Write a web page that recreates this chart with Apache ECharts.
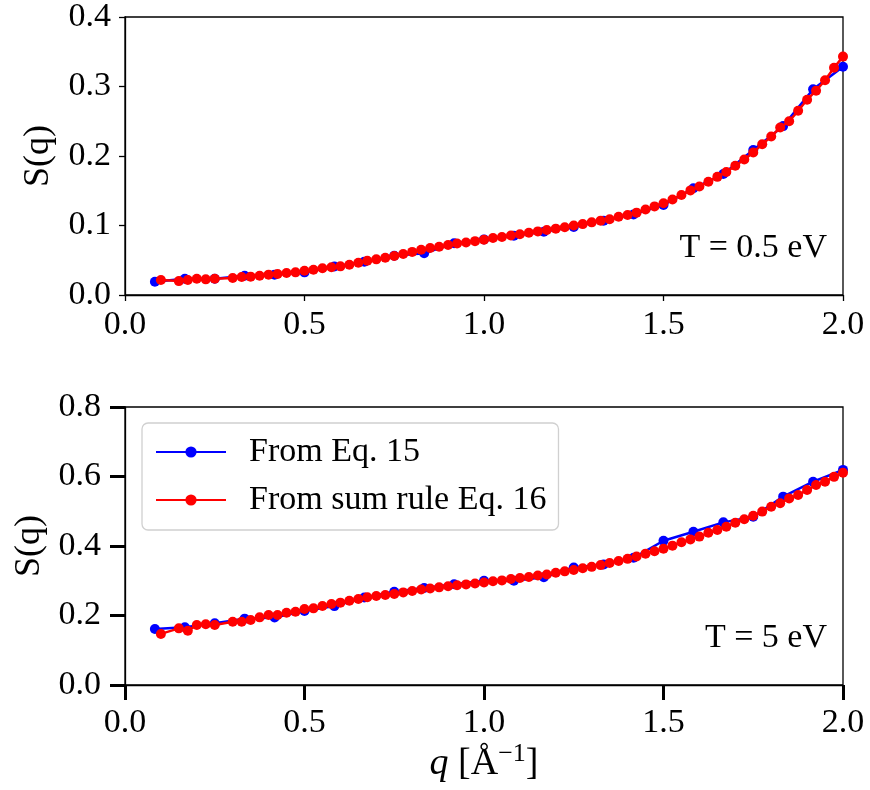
<!DOCTYPE html>
<html>
<head>
<meta charset="utf-8">
<script src="https://cdn.jsdelivr.net/npm/echarts@6/dist/echarts.min.js"></script>
<style>html,body{margin:0;padding:0;background:#fff}#c{width:870px;height:790px}</style>
</head>
<body>
<div id="c"></div>
<script>
// q values for the "From Eq. 15" series (blue)
const qBlue = [0.0833,0.1667,0.25,0.3333,0.4167,0.5,0.5833,0.6667,0.75,0.8333,0.9167,1.0,1.0833,1.1667,1.25,1.3333,1.4167,1.5,1.5833,1.6667,1.75,1.8333,1.9167,2.0];
// q values for the "From sum rule Eq. 16" series (red)
const qRed = [0.1,0.15,0.175,0.2,0.225,0.25,0.3,0.325,0.35,0.375,0.4,0.425,0.45,0.475,0.5,0.525,0.55,0.575,0.6,0.625,0.65,0.675,0.7,0.725,0.75,0.775,0.8,0.825,0.85,0.875,0.9,0.925,0.95,0.975,1.0,1.025,1.05,1.075,1.1,1.125,1.15,1.175,1.2,1.225,1.25,1.275,1.3,1.325,1.35,1.375,1.4,1.425,1.45,1.475,1.5,1.525,1.55,1.575,1.6,1.625,1.65,1.675,1.7,1.725,1.75,1.775,1.8,1.825,1.85,1.875,1.9,1.925,1.95,1.975,2.0];

// T = 0.5 eV
const sBlueT05 = [0.019,0.0235,0.0235,0.0278,0.0293,0.0326,0.041,0.048,0.0566,0.060,0.0745,0.080,0.0853,0.091,0.098,0.107,0.116,0.1295,0.1535,0.174,0.2086,0.243,0.296,0.3285];
const sRedT05 = [0.0216,0.020,0.0216,0.0235,0.0225,0.0235,0.0245,0.026,0.0264,0.0278,0.0293,0.0302,0.0316,0.0326,0.035,0.0364,0.0384,0.0398,0.0412,0.0436,0.0465,0.0494,0.0513,0.0537,0.0561,0.059,0.062,0.065,0.0675,0.0695,0.072,0.074,0.0755,0.0775,0.0795,0.082,0.0835,0.0855,0.0875,0.0895,0.0915,0.0935,0.0955,0.0975,0.100,0.102,0.1045,0.107,0.109,0.1125,0.115,0.1185,0.123,0.1275,0.132,0.1375,0.144,0.1505,0.156,0.163,0.170,0.177,0.186,0.195,0.205,0.217,0.228,0.241,0.250,0.265,0.281,0.294,0.309,0.327,0.343];

// T = 5 eV
const sBlueT5 = [0.161,0.166,0.1775,0.191,0.194,0.213,0.227,0.252,0.2686,0.279,0.290,0.300,0.300,0.310,0.338,0.347,0.366,0.415,0.441,0.468,0.484,0.542,0.585,0.619];
const sRedT5 = [0.147,0.163,0.156,0.1727,0.1746,0.1727,0.182,0.182,0.187,0.1947,0.2014,0.2014,0.208,0.211,0.2187,0.2206,0.2273,0.233,0.237,0.2426,0.2475,0.2523,0.256,0.259,0.262,0.2665,0.2705,0.275,0.2775,0.281,0.284,0.287,0.2895,0.292,0.295,0.2985,0.301,0.305,0.308,0.311,0.315,0.318,0.323,0.327,0.331,0.336,0.340,0.345,0.351,0.357,0.363,0.370,0.378,0.385,0.392,0.401,0.4106,0.419,0.427,0.438,0.446,0.4556,0.467,0.477,0.487,0.499,0.513,0.523,0.537,0.547,0.561,0.5755,0.585,0.599,0.611];

const xTicks = [0, 0.5, 1.0, 1.5, 2.0];
const yTicksTop = [0, 0.1, 0.2, 0.3, 0.4];
const yTicksBottom = [0, 0.2, 0.4, 0.6, 0.8];
const nameBlue = 'From Eq. 15';
const nameRed = 'From sum rule Eq. 16';
const labelsT = ['T = 0.5 eV', 'T = 5 eV'];

const FONT = '"Liberation Serif", "Times New Roman", serif';
const FS = 34;
const pairs = (xs, ys) => xs.map((x, i) => [x, ys[i]]);

function xAxis(gridIndex, tickLen, tickW, margin, withName) {
  const ax = {
    type: 'value', gridIndex, min: xTicks[0], max: xTicks[xTicks.length - 1], interval: 0.5,
    axisLine: { show: true, onZero: false, lineStyle: { color: '#000', width: 1.3 } },
    axisTick: { show: true, inside: false, length: tickLen, lineStyle: { color: '#000', width: tickW } },
    axisLabel: { color: '#000', fontFamily: FONT, fontSize: FS, margin, formatter: v => v.toFixed(1) },
    splitLine: { show: false }
  };
  if (withName) {
    ax.name = '{i|q} [Å{s|−1}]';
    ax.nameLocation = 'middle';
    ax.nameGap = 54;
    ax.nameTextStyle = {
      color: '#000', fontFamily: FONT, fontSize: 38,
      rich: {
        i: { fontFamily: FONT, fontStyle: 'italic', fontSize: 38, color: '#000' },
        s: { fontFamily: FONT, fontSize: 26, color: '#000', verticalAlign: 'bottom', padding: [0, 0, 20, 0] }
      }
    };
  }
  return ax;
}
function yAxis(gridIndex, ticks, interval, tickLen, tickW, margin) {
  return {
    type: 'value', gridIndex, min: ticks[0], max: ticks[ticks.length - 1], interval,
    name: 'S(q)', nameLocation: 'middle', nameGap: 68, nameRotate: 90,
    nameTextStyle: { color: '#000', fontFamily: FONT, fontSize: 36 },
    axisLine: { show: true, onZero: false, lineStyle: { color: '#000', width: 1.3 } },
    axisTick: { show: true, inside: false, length: tickLen, lineStyle: { color: '#000', width: tickW } },
    axisLabel: { color: '#000', fontFamily: FONT, fontSize: FS, margin, formatter: v => v.toFixed(1) },
    splitLine: { show: false }
  };
}
function line(name, color, xs, ys, idx, z) {
  return {
    name, type: 'line', xAxisIndex: idx, yAxisIndex: idx, data: pairs(xs, ys),
    symbol: 'circle', symbolSize: 10, showSymbol: true, z,
    lineStyle: { color, width: 2.5 }, itemStyle: { color }
  };
}

const chart = echarts.init(document.getElementById('c'), null, { renderer: 'canvas' });
chart.setOption({
  animation: false,
  backgroundColor: '#fff',
  grid: [
    { left: 125, top: 17, width: 718, height: 278, show: true, borderColor: '#000', borderWidth: 1.3, backgroundColor: 'transparent' },
    { left: 125, top: 407, width: 718, height: 278, show: true, borderColor: '#000', borderWidth: 1.3, backgroundColor: 'transparent' }
  ],
  xAxis: [xAxis(0, 6, 1.3, 13, false), xAxis(1, 15, 3, 21, true)],
  yAxis: [yAxis(0, yTicksTop, 0.1, 6, 1.3, 14), yAxis(1, yTicksBottom, 0.2, 15, 3, 24)],
  title: [
    { text: labelsT[0], right: 43, top: 231, padding: 0, textStyle: { color: '#000', fontFamily: FONT, fontSize: FS, fontWeight: 'normal' } },
    { text: labelsT[1], right: 43, top: 621, padding: 0, textStyle: { color: '#000', fontFamily: FONT, fontSize: FS, fontWeight: 'normal' } }
  ],
  legend: {
    data: [nameBlue, nameRed],
    orient: 'vertical', left: 142, top: 423,
    itemWidth: 70, itemHeight: 14, itemGap: 12,
    padding: [11, 12, 12, 13],
    backgroundColor: '#fff', borderColor: '#d0d0d0', borderWidth: 1.3, borderRadius: 6,
    textStyle: { color: '#000', fontFamily: FONT, fontSize: 34, lineHeight: 36, padding: [0, 0, 0, 18] }
  },
  series: [
    line(nameBlue, '#0000ff', qBlue, sBlueT05, 0, 2),
    line(nameRed, '#ff0000', qRed, sRedT05, 0, 3),
    line(nameBlue, '#0000ff', qBlue, sBlueT5, 1, 2),
    line(nameRed, '#ff0000', qRed, sRedT5, 1, 3)
  ]
});
</script>
</body>
</html>
